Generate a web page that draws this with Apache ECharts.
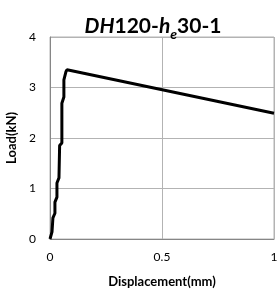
<!DOCTYPE html>
<html>
<head>
<meta charset="utf-8">
<script src="https://cdn.jsdelivr.net/npm/echarts@6/dist/echarts.min.js"></script>
<style>
  html, body { margin: 0; padding: 0; background: #fff; }
  #chart { width: 280px; height: 293px; }
</style>
</head>
<body>
<div id="chart"></div>
<script>
  // load-displacement curve
  var displacement = [0, 0.004, 0.009, 0.013, 0.022, 0.022, 0.031, 0.031, 0.040, 0.043, 0.053, 0.053, 0.062, 0.062, 0.071, 0.076, 1.0];
  var load = [0, 0, 0.14, 0.42, 0.51, 0.73, 0.83, 1.11, 1.21, 1.85, 1.90, 2.69, 2.81, 3.15, 3.31, 3.35, 2.49];
  var xTicks = [0, 0.5, 1];
  var yTicks = [0, 1, 2, 3, 4];

  var points = displacement.map(function (d, i) { return [d, load[i]]; });
  var font = 'Lato, "Open Sans", sans-serif';

  var chart = echarts.init(document.getElementById('chart'));
  chart.setOption({
    animation: false,
    title: {
      text: '{i|DH}{n|120-}{i|h}{s|e}{n|30-1}',
      left: 148,
      textAlign: 'center',
      top: 6,
      textStyle: {
        rich: {
          i: { fontFamily: font, fontSize: 21, fontWeight: 'bold', fontStyle: 'italic', color: '#000' },
          n: { fontFamily: font, fontSize: 21, fontWeight: 'bold', color: '#000' },
          s: { fontFamily: font, fontSize: 14, fontWeight: 'bold', fontStyle: 'italic', color: '#000', padding: [16, 0, 0, 0] }
        }
      }
    },
    grid: {
      left: 50, right: 6, top: 37, bottom: 54,
      outerBoundsMode: 'none',
      show: true, borderColor: '#b3b3b3', borderWidth: 1
    },
    xAxis: {
      type: 'value',
      min: 0, max: 1, interval: 0.5,
      name: 'Displacement(mm)',
      nameLocation: 'middle',
      nameGap: 36,
      nameTextStyle: { fontFamily: font, fontSize: 13, fontWeight: 'bold', color: '#000' },
      axisLine: { lineStyle: { color: '#868686', width: 1 } },
      axisTick: { show: false },
      axisLabel: {
        fontFamily: font, fontSize: 12, color: '#000', margin: 12,
        formatter: function (v) { return xTicks.indexOf(v) >= 0 ? String(v) : ''; }
      },
      splitLine: { show: true, lineStyle: { color: '#b3b3b3' } }
    },
    yAxis: {
      type: 'value',
      min: 0, max: 4, interval: 1,
      name: 'Load(kN)',
      nameLocation: 'middle',
      nameGap: 27,
      nameTextStyle: { fontFamily: font, fontSize: 13, fontWeight: 'bold', color: '#000' },
      axisLine: { show: true, lineStyle: { color: '#868686', width: 1 } },
      axisTick: { show: false },
      axisLabel: {
        fontFamily: font, fontSize: 12, color: '#000', margin: 14,
        formatter: function (v) { return yTicks.indexOf(v) >= 0 ? String(v) : ''; }
      },
      splitLine: { show: true, lineStyle: { color: '#b3b3b3' } }
    },
    series: [{
      type: 'line',
      data: points,
      showSymbol: false,
      lineStyle: { color: '#000', width: 3 }
    }]
  });
</script>
</body>
</html>
